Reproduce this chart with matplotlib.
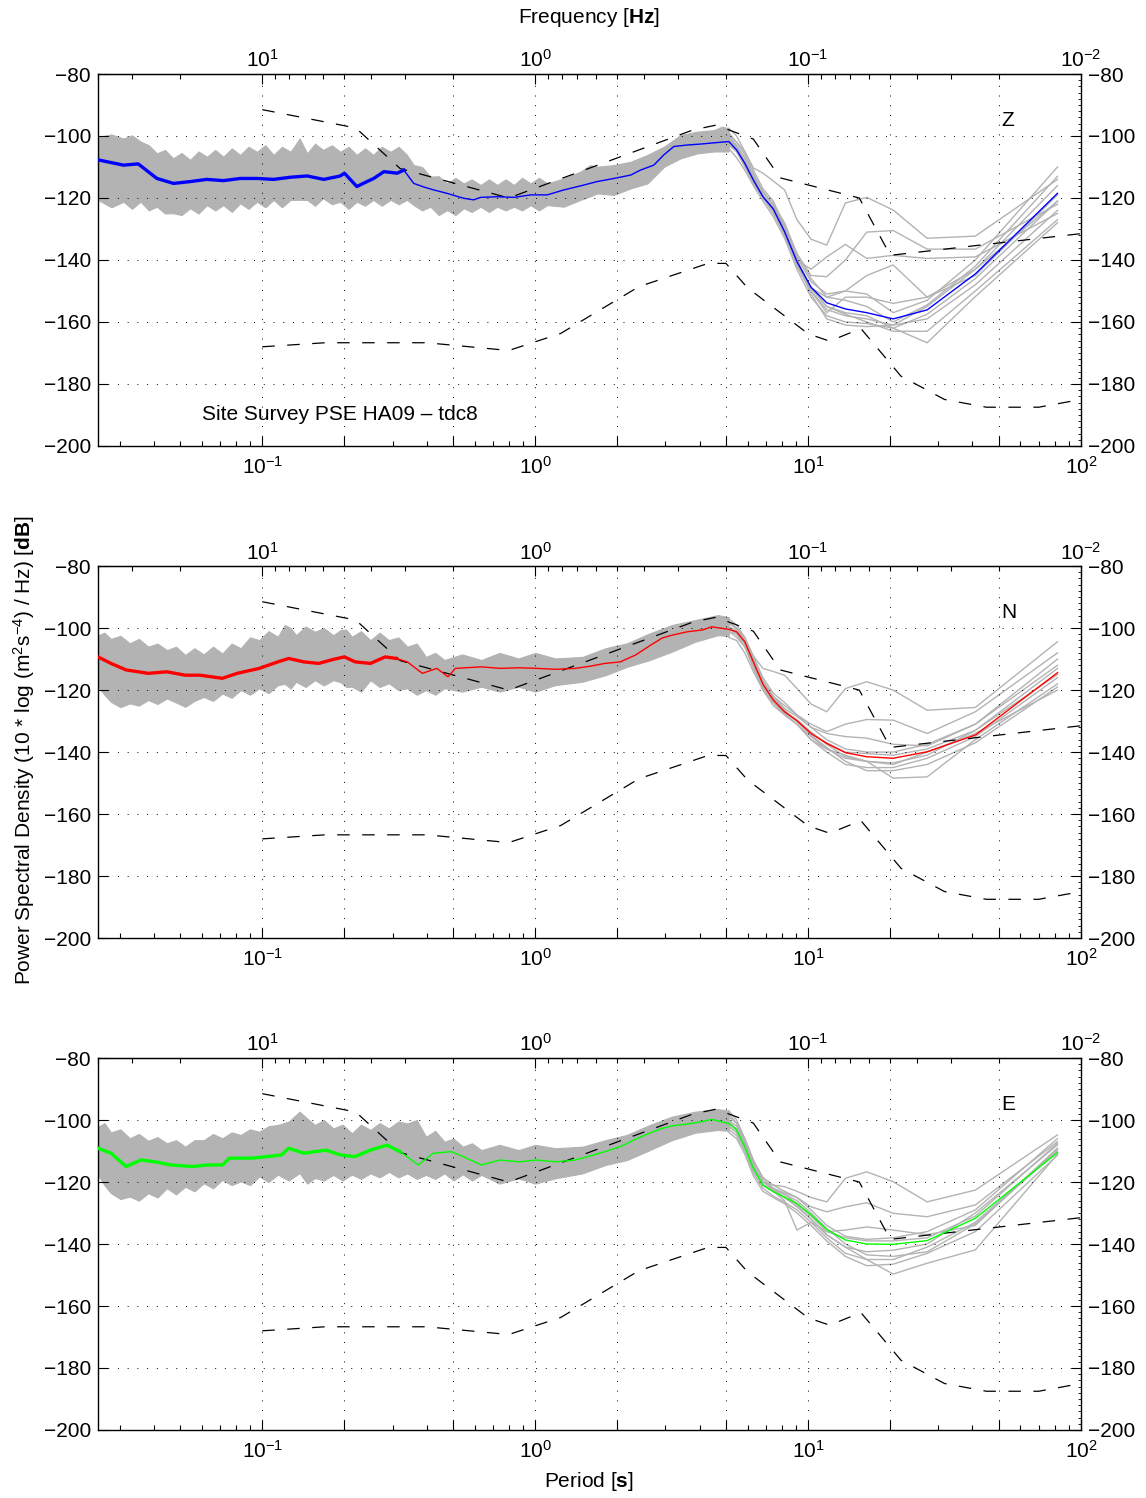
import numpy as np
import matplotlib
matplotlib.use("Agg")
from matplotlib import pyplot as plt
from matplotlib.ticker import FixedLocator, LogLocator, NullFormatter, MultipleLocator, FuncFormatter

plt.rcParams['font.family'] = ['Liberation Sans', 'DejaVu Sans']
plt.rcParams['mathtext.fontset'] = 'custom'
plt.rcParams['mathtext.rm'] = 'Liberation Sans'
plt.rcParams['mathtext.it'] = 'Liberation Sans:italic'
plt.rcParams['mathtext.bf'] = 'Liberation Sans:bold'

# Peterson noise models (breakpoints, dB)
nhnm_period = [0.1, 0.22, 0.32, 0.8, 3.8, 4.6, 6.3, 7.9, 15.4, 20.0, 100.0]
nhnm_db = [-91.5, -97.4, -110.5, -120.0, -98.0, -96.5, -101.0, -113.5, -120.0, -138.5, -131.5]
nlnm_period = [0.1, 0.17, 0.4, 0.8, 1.24, 2.4, 4.3, 5.0, 6.0, 10.0, 12.0, 15.6, 21.9, 31.6, 45.0, 70.0, 100.0]
nlnm_db = [-168.0, -166.7, -166.7, -169.2, -163.7, -148.6, -141.1, -141.1, -149.0, -163.8,
           -166.2, -162.1, -177.5, -185.0, -187.5, -187.5, -185.0]

# long period frequency bins (s)
long_period = [82.0, 41.0, 27.3, 20.5, 16.4, 13.7, 11.7, 10.25, 9.1, 8.2, 7.45, 6.83, 6.3, 5.86, 5.47, 5.12]

# ---------------- Z ----------------
z_short_period = [0.025, 0.031, 0.0351, 0.0411, 0.0473, 0.0545, 0.0626, 0.0721, 0.083, 0.0957, 0.110, 0.127,
                  0.146, 0.168, 0.193, 0.2, 0.222, 0.242, 0.256, 0.279, 0.312, 0.33, 0.359, 0.392, 0.425,
                  0.475, 0.547, 0.595, 0.631, 0.726, 0.836, 0.962, 1.107, 1.273, 1.466, 1.687, 1.942, 2.24,
                  2.43, 2.72, 2.96, 3.22, 3.61, 4.04, 4.52]
z_short_db = [-107.7, -109.4, -109.0, -113.7, -115.3, -114.7, -114.0, -114.4, -113.7, -113.7, -114.0, -113.3,
              -112.9, -114.0, -112.9, -112.0, -116.3, -114.7, -113.7, -111.5, -112.0, -111.0, -115.3, -116.5,
              -117.4, -118.5, -120.1, -120.6, -119.8, -119.6, -119.8, -119.0, -119.0, -117.4, -116.1, -114.7,
              -113.7, -112.6, -111.0, -109.4, -106.1, -103.4, -102.9, -102.6, -102.2]
z_long_median = [-118.5, -144.5, -156.1, -159.0, -157.0, -155.8, -153.8, -148.8, -140.5, -130.9, -123.5,
                 -119.6, -114.2, -108.8, -104.5, -101.8]
z_env_period = [0.025, 0.031, 0.0358, 0.0411, 0.0471, 0.0544, 0.0627, 0.072, 0.083, 0.0956, 0.110, 0.127,
                0.137, 0.146, 0.167, 0.193, 0.222, 0.255, 0.295, 0.339, 0.359, 0.413, 0.476, 0.547, 0.631,
                0.726, 0.836, 0.962, 1.107, 1.273, 1.466, 1.59, 1.687, 1.942, 2.24, 2.58, 2.97, 3.41, 3.93,
                4.52, 4.84, 5.12]
z_env_upper = [-100.3, -100.8, -101.8, -105.6, -107.2, -107.7, -106.7, -106.7, -106.1, -105.1, -106.1, -105.1,
               -100.8, -105.6, -104.5, -105.1, -106.1, -106.1, -105.1, -106.1, -109.4, -113.1, -115.3, -115.3,
               -115.8, -115.8, -115.8, -115.3, -115.3, -113.7, -111.5, -109.4, -109.9, -109.4, -108.3, -106.1,
               -103.4, -99.7, -98.6, -98.1, -97.0, -97.5]
z_env_lower = [-120.6, -121.2, -121.2, -122.8, -124.9, -123.3, -122.3, -122.3, -121.7, -121.2, -120.6, -120.6,
               -120.6, -120.6, -120.1, -121.2, -121.2, -120.6, -120.6, -120.6, -122.3, -122.8, -123.9, -123.3,
               -122.8, -122.8, -122.8, -122.3, -122.3, -122.8, -120.6, -119.5, -118.5, -119.0, -116.9, -115.3,
               -109.9, -107.2, -105.6, -105.0, -105.0, -105.0]
# spikes of the noisy band between the points above
z_spike_period = [0.028, 0.0333, 0.0384, 0.044, 0.0506, 0.0584, 0.0672, 0.0773, 0.089, 0.1026, 0.118, 0.156,
                  0.18, 0.207, 0.238, 0.274, 0.316, 0.385, 0.443, 0.51, 0.585, 0.677, 0.779, 0.895, 1.032]
z_spike_upper = [-99.5, -99.8, -103, -104.5, -105.5, -105.0, -104.5, -104, -103.5, -103, -103.5, -102.5,
                 -103, -103.5, -104, -103.5, -103.5, -110, -113, -113.5, -114, -114, -114, -113.5, -113.5]
z_spike_lower = [-123, -123.5, -124, -125, -125.5, -125, -124, -124.5, -123.5, -123, -123, -122.5,
                 -122, -123.5, -122.5, -122.5, -122, -124, -125.5, -125.5, -124.5, -124.5, -124, -124, -124]
z_gray_lines = [
    [-110, -140, -153, -157, -151, -150, -151, -147, -139, -129, -121, -117, -111, -105, -100, -97.5],
    [-113, -142, -154.5, -160, -155, -153, -152, -146, -138, -128, -122, -118, -112, -106, -102, -99],
    [-116, -143, -155, -161, -159, -158, -156, -150, -142, -132, -125, -120, -115, -110, -105, -102.5],
    [-121, -146, -157.5, -162, -160.5, -160, -158, -152, -143, -133, -126, -121, -116, -111, -107, -104],
    [-124, -148, -159, -161, -161.5, -161, -159, -151, -141, -130, -122, -118, -113, -108, -103.5, -100.5],
    [-127, -150, -163, -163, -160, -157.5, -155, -149, -140, -131, -124, -120, -114, -109, -104, -101],
    [-119, -145, -152, -154, -152, -152, -157, -150, -141, -131, -124, -120, -115, -109, -105, -103],
    [-114, -132.3, -133, -123.9, -119.8, -121.6, -135.2, -133.3, -127, -117.4, -114.5, -112, -110.3, -105, -102, -99.5],
    [-122, -136.5, -136.5, -130.5, -131, -140, -145.4, -145, -138, -129, -122, -118, -113, -107, -103, -100],
    [-125, -139, -139.5, -138.5, -139.5, -135, -139, -143, -140, -131, -123, -119, -114, -108, -104, -101],
    [-121, -143, -152, -141.6, -145, -150, -152, -149, -141, -131, -124, -120, -115, -109, -104, -101],
    [-128, -151.8, -166.7, -162, -158, -157, -155, -149, -140, -130, -123, -119, -114, -108.5, -104, -101.5],
]

# ---------------- N ----------------
n_short_period = [0.025, 0.0279, 0.0317, 0.0382, 0.0447, 0.0522, 0.0591, 0.0714, 0.0809, 0.0975, 0.114, 0.125,
                  0.142, 0.161, 0.182, 0.200, 0.219, 0.249, 0.282, 0.310, 0.340, 0.386, 0.436, 0.479, 0.510,
                  0.635, 0.743, 0.869, 1.014, 1.186, 1.40, 1.59, 1.80, 2.05, 2.33, 2.65, 2.92, 3.17, 3.6,
                  4.1, 4.43]
n_short_db = [-109.3, -111.4, -113.5, -114.6, -114.1, -115.2, -115.2, -116.2, -114.6, -113.0, -110.9, -109.8,
              -110.9, -111.4, -110.1, -109.3, -110.9, -111.4, -109.3, -109.8, -110.9, -114.6, -113.0, -115.7,
              -113.0, -112.5, -113.0, -112.8, -113.0, -113.3, -113.0, -112.3, -111.4, -110.9, -108.7, -105.5,
              -103.2, -102.3, -101.2, -100.6, -99.6]
n_long_median = [-114.4, -134.5, -139.9, -142.0, -141.5, -140.2, -137.2, -134.0, -129.9, -127.0, -123.2,
                 -118.1, -110.9, -104.4, -101.2, -100.4]
n_env_period = [0.025, 0.0279, 0.0327, 0.0382, 0.0447, 0.0522, 0.0610, 0.0714, 0.0834, 0.0975, 0.114, 0.121,
                0.133, 0.156, 0.182, 0.194, 0.213, 0.249, 0.291, 0.340, 0.398, 0.465, 0.635, 0.869, 1.186,
                1.49, 1.81, 2.17, 2.63, 3.17, 3.86, 4.67, 5.12]
n_env_upper = [-102.3, -103.5, -104.9, -106.0, -107.1, -108.7, -108.5, -108.2, -106.5, -103.9, -102.8, -99.0,
               -102.3, -101.2, -102.3, -100.6, -102.8, -103.9, -103.9, -106.0, -109.3, -110.3, -110.3, -109.8,
               -109.8, -109.3, -106.5, -104.9, -101.7, -99.0, -97.4, -95.8, -96.5]
n_env_lower = [-118.9, -123.8, -124.3, -123.2, -122.7, -125.4, -122.2, -121.1, -120.0, -119.4, -118.4, -118.0,
               -117.3, -116.8, -116.8, -117.5, -118.9, -116.8, -117.8, -119.4, -120.0, -119.4, -118.9, -118.9,
               -118.4, -117.3, -115.2, -112.5, -110.3, -107.6, -104.4, -102.3, -102.5]
n_spike_period = [0.0264, 0.0302, 0.0353, 0.0413, 0.0483, 0.0564, 0.066, 0.0772, 0.0902, 0.1054, 0.127, 0.144,
                  0.168, 0.203, 0.23, 0.269, 0.315, 0.368, 0.43, 0.54, 0.74, 1.0]
n_spike_upper = [-101.5, -102.5, -103.5, -105, -106, -106.5, -106, -105, -103, -101, -100, -99.5,
                 -100, -100.5, -101, -101.5, -103, -105, -108, -108.5, -108, -108]
n_spike_lower = [-121.5, -125.5, -125, -124.5, -124, -123.5, -123.5, -122.5, -121.5, -121, -119.5, -119,
                 -118.5, -119, -120.5, -119, -120, -121.5, -121.5, -120.5, -120.5, -120.5]
n_gray_lines = [
    [-104.4, -125.6, -126.5, -120.0, -117.3, -119.5, -127.0, -124.5, -119.5, -115.2, -114, -113.0, -109, -104, -100, -98.5],
    [-108, -127, -134, -129.7, -129.5, -131, -133.4, -131, -128, -125, -122, -117, -110, -104, -101, -99.5],
    [-112, -131, -138, -137.5, -135.5, -135, -134, -132, -128, -124, -121, -116, -109, -103, -99, -97],
    [-118, -136, -148, -148.4, -143, -141, -139, -136, -131, -128, -124, -119, -112, -106, -102, -100],
    [-110, -131, -137.5, -140, -140, -139, -136, -132, -128.5, -126, -122, -117, -110, -103, -100, -98],
    [-113, -133, -141, -143.5, -143, -142, -139, -135, -131, -127.5, -124, -119, -112, -105, -101.5, -99.5],
    [-116, -135, -142, -145, -145, -144, -140, -136, -131, -128, -125, -120, -113, -106, -103, -101],
    [-119, -137, -144, -146, -146, -143, -138.5, -134.5, -130, -127, -123, -118, -111, -105, -102, -101],
    [-120, -134, -140, -144, -143, -141.5, -137.5, -133.5, -129.5, -127, -124, -120, -114, -108, -104, -103],
    [-115, -133, -139, -141, -140.5, -140, -137, -134, -130, -126.5, -122.5, -118, -111, -104.5, -100.5, -98],
]

# ---------------- E ----------------
e_short_period = [0.025, 0.0279, 0.0317, 0.0359, 0.0407, 0.0461, 0.0555, 0.0628, 0.0714, 0.0759, 0.0916,
                  0.1038, 0.1174, 0.125, 0.142, 0.171, 0.194, 0.219, 0.249, 0.286, 0.320, 0.373, 0.423, 0.494,
                  0.560, 0.635, 0.743, 0.869, 1.014, 1.186, 1.40, 1.59, 1.80, 2.05, 2.33, 2.65, 2.92, 3.17,
                  3.6, 4.1, 4.43]
e_short_db = [-109.1, -110.7, -115.0, -112.9, -113.5, -114.5, -115.0, -114.5, -114.5, -112.3, -112.3, -111.8,
              -111.3, -109.1, -110.7, -109.7, -111.3, -111.8, -109.7, -108.1, -110.2, -114.5, -110.7, -110.2,
              -112.3, -114.5, -112.9, -113.5, -112.9, -113.5, -112.9, -111.6, -110.2, -108.6, -106.2, -104.1,
              -102.7, -101.9, -101.3, -100.5, -99.8]
e_long_median = [-110.5, -131.7, -138.9, -140.1, -140.0, -138.7, -135.3, -130.6, -126.9, -124.9, -123.1,
                 -121.0, -115.6, -108.6, -103.2, -101.1]
e_env_period = [0.025, 0.0279, 0.0327, 0.0382, 0.0447, 0.0522, 0.0610, 0.0714, 0.0834, 0.0975, 0.114, 0.137,
                0.156, 0.182, 0.213, 0.249, 0.291, 0.340, 0.398, 0.465, 0.543, 0.635, 0.869, 1.186, 1.49,
                1.81, 2.17, 2.63, 3.17, 3.86, 4.67, 5.12]
e_env_upper = [-102.2, -104.0, -105.9, -106.7, -107.5, -108.6, -106.5, -105.9, -104.8, -103.8, -101.6, -97.3,
               -101.6, -102.7, -104.3, -103.2, -102.7, -101.1, -105.4, -107.0, -108.6, -109.7, -109.7, -109.1,
               -108.6, -106.5, -104.8, -101.6, -98.9, -97.3, -96.5, -97.0]
e_env_lower = [-117.7, -123.6, -124.7, -123.6, -122.0, -121.5, -120.4, -119.3, -119.8, -118.2, -117.6, -117.1,
               -118.7, -117.7, -117.6, -117.2, -116.7, -117.2, -117.7, -117.2, -117.5, -117.7, -118.8, -118.8,
               -117.2, -114.5, -112.9, -109.7, -106.5, -104.1, -103.2, -103.5]
e_spike_period = [0.0264, 0.0302, 0.0353, 0.0413, 0.0483, 0.0564, 0.066, 0.0772, 0.0902, 0.1054, 0.125, 0.146,
                  0.168, 0.197, 0.23, 0.269, 0.315, 0.368, 0.43, 0.502, 0.587, 0.74, 1.0]
e_spike_upper = [-101, -103, -104.5, -105.5, -106.5, -106.5, -104.5, -104, -103, -102, -100.5, -99.5,
                 -100, -101.5, -101.5, -101, -100.5, -100, -103.5, -106, -107.5, -108, -108]
e_spike_lower = [-121, -125.5, -126, -125, -124, -123, -122, -121, -121, -120, -119.5, -120.5,
                 -119.5, -119.5, -119, -118.5, -118.5, -119, -119, -119.5, -119.5, -120.5, -120.5]
e_gray_lines = [
    [-104.8, -122.6, -126.4, -119.9, -116.7, -118.8, -126.4, -125, -123, -121.5, -121, -120, -114, -107, -101, -98],
    [-107, -127.4, -131.2, -130.1, -126.7, -128, -129.6, -128, -125, -123.5, -122, -119, -113, -106, -100, -97],
    [-111, -141.9, -146.2, -149.7, -145, -141, -137, -132, -128, -125, -122.5, -120, -115, -108, -103, -101],
    [-109, -134, -137, -135.5, -134.5, -135.5, -136, -133, -135.5, -126, -123, -121, -116, -109, -104, -102],
    [-106, -129, -136, -138, -138.5, -137.5, -134, -129, -125, -123, -121, -118.5, -113, -106, -101, -99],
    [-108, -130, -140, -142, -142.5, -141, -137, -132, -127.5, -125, -123, -121, -116, -109, -104, -102],
    [-109.5, -133, -141, -145, -145, -143, -138, -133, -129, -126.5, -124.5, -122, -117, -110, -105, -103],
    [-111.3, -136, -143, -146.5, -147, -144, -139, -134, -130, -127, -125, -123, -118, -111, -106, -104],
    [-107.5, -131, -138, -139, -139, -138, -136, -131, -127, -124, -122, -120, -114, -107, -102, -100],
    [-110, -133.5, -142.5, -144, -143.5, -140, -135, -130, -126, -124, -122.5, -121, -115.5, -108, -103, -100.5],
]

GRAY = '#b3b3b3'
grid_x = [0.1, 0.2, 0.5, 1, 2, 5, 10, 20, 50, 100]
FS = 15


def recip(x):
    x = np.asarray(x, dtype=float)
    with np.errstate(divide='ignore', invalid='ignore'):
        return 1.0 / x


def decade_label(v, pos):
    e = np.log10(v)
    if abs(e - round(e)) < 1e-6:
        return '$10^{%d}$' % round(e)
    return ''


def draw_panel(ax, short_p, short_db, long_db, env_p, env_up, env_lo, sp_p, sp_up, sp_lo,
               gray_lines, color, tag):
    ax.set_xscale('log')
    # band of the noisy short period part
    bp = np.array(env_p + sp_p)
    order = np.argsort(bp)
    bu = np.array(env_up + sp_up)[order]
    bl = np.array(env_lo + sp_lo)[order]
    ax.fill_between(bp[order], bl, bu, facecolor=GRAY, edgecolor=GRAY, lw=0.8, zorder=1)
    for g in gray_lines:
        ax.plot(long_period, g, color=GRAY, lw=1.0, zorder=1.2)

    ax.plot(nhnm_period, nhnm_db, color='k', lw=0.9, dashes=(10, 10), zorder=2)
    ax.plot(nlnm_period, nlnm_db, color='k', lw=0.9, dashes=(10, 10), zorder=2)

    med_p = np.array(short_p + long_period[::-1])
    med_db = np.array(short_db + long_db[::-1])
    n_noisy = int((med_p <= 0.33).sum())
    ax.plot(med_p[:n_noisy], med_db[:n_noisy], color=color, lw=2.4, zorder=3)
    ax.plot(med_p[n_noisy - 1:], med_db[n_noisy - 1:], color=color, lw=1.0, zorder=3)

    ax.set_xlim(0.025, 100)
    ax.set_ylim(-200, -80)

    ax.xaxis.set_major_locator(FixedLocator(grid_x))
    ax.xaxis.set_major_formatter(FuncFormatter(decade_label))
    ax.xaxis.set_minor_locator(LogLocator(base=10, subs=np.arange(2, 10), numticks=30))
    ax.xaxis.set_minor_formatter(NullFormatter())
    ax.tick_params(axis='x', which='both', direction='in', top=False, labelsize=FS)
    ax.tick_params(axis='x', which='major', length=7, width=0.8, pad=7)
    ax.tick_params(axis='x', which='minor', length=3.5, width=0.8)

    ax.set_yticks(np.arange(-200, -79, 20))
    ax.yaxis.set_minor_locator(MultipleLocator(2))
    ax.tick_params(axis='y', which='major', direction='in', left=True, right=True,
                   labelleft=True, labelright=True, length=7, width=0.8, pad=5, labelsize=FS)
    ax.tick_params(axis='y', which='minor', direction='in', left=False, right=True, length=2.5, width=0.6)

    ax.grid(True, which='major', color='k', linestyle=(0, (1, 9)), lw=0.7)
    for s in ax.spines.values():
        s.set_linewidth(1.0)

    sec = ax.secondary_xaxis('top', functions=(recip, recip))
    sec.set_xticks([10, 1, 0.1, 0.01], labels=['$10^{1}$', '$10^{0}$', '$10^{-1}$', '$10^{-2}$'])
    sec.xaxis.set_minor_locator(LogLocator(base=10, subs=np.arange(2, 10), numticks=30))
    sec.xaxis.set_minor_formatter(NullFormatter())
    sec.tick_params(which='both', direction='in', labelsize=FS, width=0.8)
    sec.tick_params(which='major', length=7, pad=2)
    sec.tick_params(which='minor', length=3.5)

    ax.text(51, -95, tag, fontsize=FS, ha='left', va='center')


fig = plt.figure(figsize=(11.46, 14.98), dpi=100)
left, width, height = 0.0855, 0.8578, 0.2483
ax1 = fig.add_axes([left, 0.7023, width, height])
ax2 = fig.add_axes([left, 0.3738, width, height])
ax3 = fig.add_axes([left, 0.0454, width, height])

draw_panel(ax1, z_short_period, z_short_db, z_long_median, z_env_period, z_env_upper, z_env_lower,
           z_spike_period, z_spike_upper, z_spike_lower, z_gray_lines, (0, 0, 1), 'Z')
draw_panel(ax2, n_short_period, n_short_db, n_long_median, n_env_period, n_env_upper, n_env_lower,
           n_spike_period, n_spike_upper, n_spike_lower, n_gray_lines, (1, 0, 0), 'N')
draw_panel(ax3, e_short_period, e_short_db, e_long_median, e_env_period, e_env_upper, e_env_lower,
           e_spike_period, e_spike_upper, e_spike_lower, e_gray_lines, (0, 1, 0), 'E')

ax1.text(0.06, -190, 'Site Survey PSE HA09 \u2013 tdc8', fontsize=FS, ha='left', va='center')

fig.text(0.514, 0.988, r'Frequency [$\mathbf{Hz}$]', fontsize=FS, ha='center', va='center')
fig.text(0.514, 0.0107, r'Period [$\mathbf{s}$]', fontsize=FS, ha='center', va='center')
fig.text(0.021, 0.4993, r'Power Spectral Density (10 * log (m$^{2}$s$^{-4}$) / Hz) [$\mathbf{dB}$]',
         fontsize=FS, ha='center', va='center', rotation=90)

fig.savefig('out.png', dpi=100)
